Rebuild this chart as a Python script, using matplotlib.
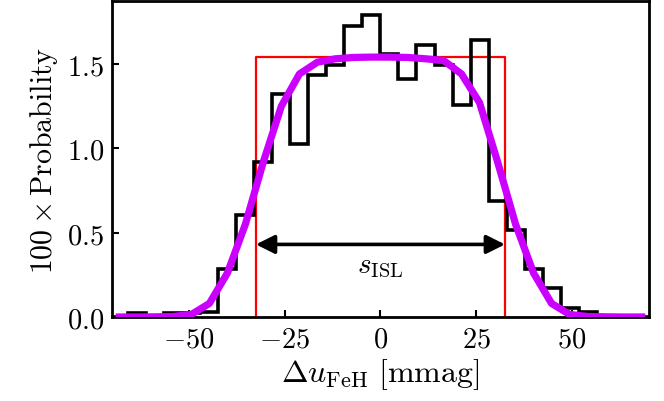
import numpy as np
import matplotlib.pyplot as plt
from matplotlib.ticker import FuncFormatter

plt.rcParams['mathtext.fontset'] = 'cm'
plt.rcParams['font.family'] = 'serif'
plt.rcParams['font.serif'] = ['DejaVu Serif']

# Histogram of offsets (30 bins from -70.5 to 70.5 mmag)
bin_edges = np.linspace(-70.5, 70.5, 31)
hist_vals = [0.0, 0.021, 0.0, 0.021, 0.021, 0.027, 0.284, 0.604, 0.92, 1.322,
             1.025, 1.435, 1.495, 1.724, 1.787, 1.56, 1.411, 1.613, 1.494, 1.259,
             1.639, 0.687, 0.513, 0.284, 0.171, 0.056, 0.027, 0.0, 0.0, 0.0]

# Smoothed ISL model, sampled at the bin centres
model_vals = [0.0, 0.0, 0.001, 0.003, 0.015, 0.08, 0.26, 0.55, 0.92, 1.25,
              1.44, 1.51, 1.53, 1.538, 1.54, 1.54, 1.538, 1.53, 1.52, 1.44,
              1.27, 0.92, 0.55, 0.26, 0.08, 0.015, 0.003, 0.001, 0.0, 0.0]

# Top-hat of width s_ISL
isl_lo, isl_hi = -32.5, 32.5
isl_height = 1.538

centres = 0.5 * (bin_edges[1:] + bin_edges[:-1])

fig = plt.figure(figsize=(6.64, 4.02), dpi=100)
ax = fig.add_axes([0.169, 0.209, 0.808, 0.785])

ax.stairs(hist_vals, bin_edges, color='k', lw=2.6, zorder=2)
ax.plot([isl_lo, isl_lo, isl_hi, isl_hi], [0, isl_height, isl_height, 0],
        color='red', lw=1.6, zorder=1)
ax.plot(centres, model_vals, color='#cc00ff', lw=5.2, zorder=3)

ax.annotate('', xy=(isl_lo, 0.43), xytext=(isl_hi, 0.43),
            arrowprops=dict(arrowstyle='<|-|>', color='k', lw=2.6,
                            mutation_scale=28, shrinkA=0, shrinkB=0))
ax.text(0, 0.31, r'$s_{\mathrm{ISL}}$', ha='center', va='center', fontsize=21)

ax.set_xlim(-70, 70)
ax.set_ylim(0, 1.87)
ax.set_xticks([-50, -25, 0, 25, 50])
ax.set_yticks([0.0, 0.5, 1.0, 1.5])
ax.xaxis.set_major_formatter(FuncFormatter(lambda v, p: r'$%d$' % v))
ax.yaxis.set_major_formatter(FuncFormatter(lambda v, p: r'$%.1f$' % v))
ax.tick_params(direction='in', length=5, width=1.5, labelsize=20.5, pad=6)
for sp in ax.spines.values():
    sp.set_linewidth(2)

ax.set_xlabel(r'$\Delta u_{\mathrm{FeH}}\ [\mathrm{mmag}]$', fontsize=23, labelpad=3)
ax.set_ylabel(r'$100\times\mathrm{Probability}$', fontsize=21.5, labelpad=5)

fig.savefig('out.png', dpi=100)
